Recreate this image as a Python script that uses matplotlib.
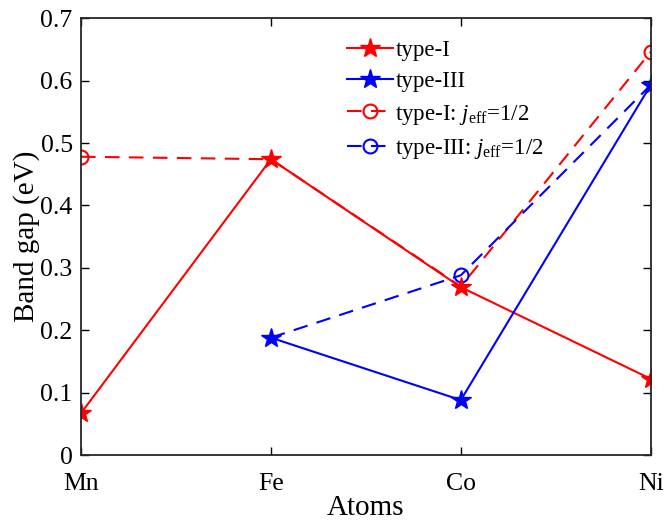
import matplotlib
matplotlib.use("Agg")
import matplotlib.pyplot as plt

atoms = ["Mn", "Fe", "Co", "Ni"]
x_all = [0, 1, 2, 3]
type1 = [0.067, 0.474, 0.269, 0.122]
x_t3 = [1, 2, 3]
type3 = [0.188, 0.088, 0.593]
type1_jeff = [0.478, 0.474, 0.270, 0.646]
type3_jeff = [0.188, 0.288, 0.593]
yticks = [0, 0.1, 0.2, 0.3, 0.4, 0.5, 0.6, 0.7]

plt.rcParams['font.family'] = ['Liberation Serif', 'DejaVu Serif']
plt.rcParams['mathtext.fontset'] = 'custom'
plt.rcParams['mathtext.rm'] = 'Liberation Serif'
plt.rcParams['mathtext.it'] = 'Liberation Serif:italic'

fig = plt.figure(figsize=(6.64, 5.20), dpi=100)
ax = fig.add_axes([0.122, 0.125, 0.858, 0.840])

dash = (0, (7, 4.5))
ax.plot(x_all, type1_jeff, color='red', ls=dash, lw=1.5, marker='o', ms=10,
        mfc='none', mec='red', mew=1.5, markevery=[0, 3],
        label=r'type-I: $j_{\rm eff}$=1/2')
ax.plot(x_t3, type3_jeff, color='blue', ls=dash, lw=1.5, marker='o', ms=10,
        mfc='none', mec='blue', mew=1.5, markevery=[1],
        label=r'type-III: $j_{\rm eff}$=1/2')
ax.plot(x_all, type1, color='red', lw=1.5, marker='*', ms=15, label='type-I')
ax.plot(x_t3, type3, color='blue', lw=1.5, marker='*', ms=15, label='type-III')

ax.set_xlim(0, 3)
ax.set_ylim(0, 0.7)
ax.set_xticks(x_all)
ax.set_xticklabels(atoms)
ax.set_yticks(yticks)
ax.set_yticklabels([f"{v:g}" for v in yticks])
ax.tick_params(direction='in', top=True, right=True, labelsize=18.5, length=6, width=1)
ax.tick_params(axis='y', pad=6)
ax.tick_params(axis='x', pad=13)
for s in ax.spines.values():
    s.set_linewidth(1.3)
    s.set_color('#262626')
ax.set_xlabel('Atoms', fontsize=21, labelpad=0)
ax.set_ylabel('Band gap (eV)', fontsize=21, labelpad=0)

h, l = ax.get_legend_handles_labels()
order = [2, 3, 0, 1]
ax.legend([h[i] for i in order], [l[i] for i in order], frameon=False, fontsize=16.5,
          loc='upper left', bbox_to_anchor=(0.443, 0.982), handlelength=2.0,
          handletextpad=0.1, labelspacing=0.45, borderaxespad=0.2)

fig.savefig("out.png", dpi=100)
